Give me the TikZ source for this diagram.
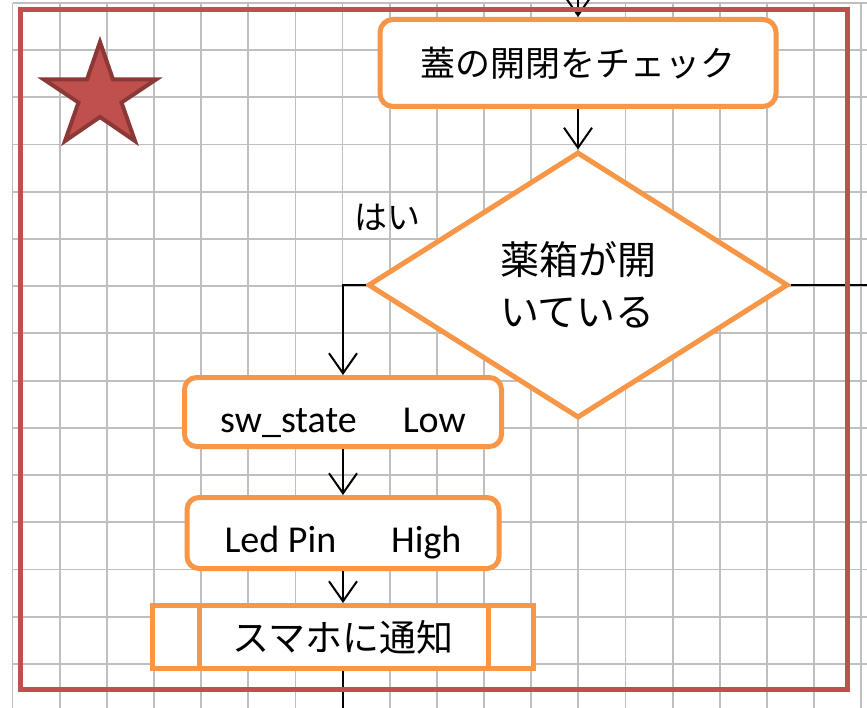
\documentclass[tikz,border=0pt]{standalone}
\usepackage{fontspec}
\setmainfont{Carlito}
\newfontfamily\jp{Noto Sans CJK JP}
\usetikzlibrary{arrows.meta,shapes.geometric}
\definecolor{framec}{HTML}{C0504D}
\definecolor{starline}{HTML}{8C3836}
\definecolor{boxline}{HTML}{F79646}
\definecolor{gridc}{HTML}{BFBFBF}
\begin{document}
\begin{tikzpicture}[x=1pt,y=-1pt,
  conn/.style={draw=black, line width=2pt, -{Straight Barb[length=20pt,width=28pt]}},
  plainline/.style={draw=black, line width=2pt},
  gridline/.style={draw=gridc, line width=1.8pt},
  procbox/.style={rectangle, draw=boxline, line width=5pt, fill=white, rounded corners=13pt, inner sep=0pt},
  subbox/.style={rectangle, draw=boxline, line width=5pt, fill=white, inner sep=0pt},
  decide/.style={diamond, draw=boxline, line width=5pt, fill=white, inner sep=0pt, aspect=1.6, align=left},
  jpbig/.style={font=\jp\fontsize{35}{42}\selectfont},
  latin/.style={font=\fontsize{38}{46}\selectfont},
]
\useasboundingbox (0,0) rectangle (867,708);
\fill[white] (0,0) rectangle (867,708);
% grid
\foreach \i in {0,...,18} \draw[gridline] ({12.5+47.15*\i},3) -- ({12.5+47.15*\i},712);
\foreach \j in {0,...,15} \draw[gridline] (12.5,{3+47.2*\j}) -- (870,{3+47.2*\j});

% nodes
\node[procbox, jpbig, minimum width=396pt, minimum height=87pt] (check) at (578,63) {蓋の開閉をチェック};
\node[decide, font=\jp\fontsize{39}{52}\selectfont, minimum width=420pt, minimum height=266pt] (open) at (578,285) {薬箱が開\\いている};
\node[procbox, latin, rounded corners=12pt, minimum width=317pt, minimum height=69pt, text height=40pt, text depth=0pt] (sw) at (343,412) {sw\_state\hspace{46pt}Low};
\node[procbox, latin, rounded corners=12pt, minimum width=312pt, minimum height=71pt, text height=38pt, text depth=0pt] (led) at (343,533) {Led Pin\hspace{55pt}High};
\node[subbox, font=\jp\fontsize{37}{44}\selectfont, minimum width=381pt, minimum height=63pt] (notify) at (343,637) {スマホに通知};
\draw[draw=boxline, line width=5pt] ([xshift=49pt]notify.north west) -- ([xshift=49pt]notify.south west);
\draw[draw=boxline, line width=5pt] ([xshift=-48pt]notify.north east) -- ([xshift=-48pt]notify.south east);
\node[font=\jp\fontsize{33}{40}\selectfont] (yes) at (387,217) {はい};

% connectors
\coordinate (topin) at (578,-40);
\coordinate (botout) at (343,740);
\coordinate (rightout) at (900,285);
\draw[conn] (topin) -- (check.north);
\draw[conn] (check.south) -- (open.north);
\draw[conn] (open.west) -| (sw.north);
\draw[conn] (sw.south) -- (led.north);
\draw[conn] (led.south) -- (notify.north);
\draw[plainline] (notify.south) -- (botout);
\draw[plainline] (open.east) -- (rightout);

% frame
\draw[draw=framec, line width=5pt] (20,10) rectangle (847,689);

% star
\draw[fill=framec, draw=starline, line width=4pt]
  (100,42) -- (113,79.5) -- (156,79.5) -- (121.5,102.5) -- (135,141)
  -- (100,117) -- (65,141) -- (78.5,102.5) -- (44,79.5) -- (87,79.5) -- cycle;
\end{tikzpicture}
\end{document}
